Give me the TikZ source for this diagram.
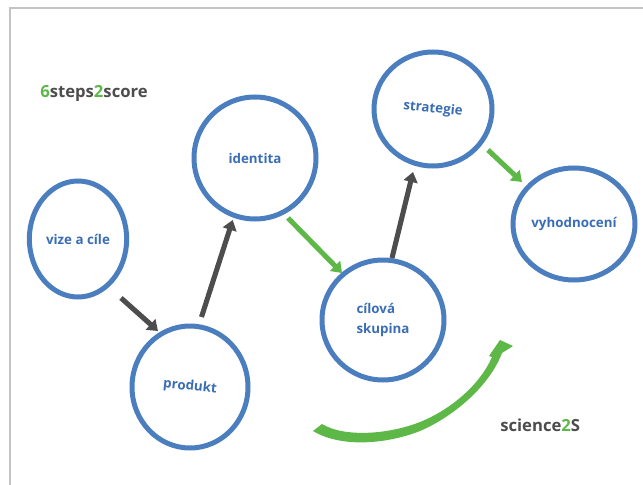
\documentclass[tikz,border=0pt]{standalone}
\usepackage{fontspec}
\setmainfont{Open Sans}
\usetikzlibrary{shapes.geometric,arrows.meta,calc}
\definecolor{cblue}{HTML}{4A7EBF}
\definecolor{tblue}{HTML}{3A6DB5}
\definecolor{dgray}{HTML}{4D4D4D}
\definecolor{cgreen}{HTML}{5DB847}
\definecolor{fgray}{HTML}{C4C4C4}
\begin{document}
\begin{tikzpicture}[x=0.75pt,y=-0.75pt,
  stage/.style={ellipse, draw=cblue, line width=3.75pt, inner sep=0pt,
    font=\bfseries\fontsize{10}{15}\selectfont, text=tblue, align=center},
  darr/.style={draw=dgray, line width=3.8pt, -{Triangle[length=7.5pt,width=10.5pt]}},
  garr/.style={draw=cgreen, line width=3.8pt, -{Triangle[length=7.5pt,width=10.5pt]}},
  brand/.style={font=\bfseries\fontsize{12.5}{14}\selectfont, text=dgray, inner sep=0pt}]
\useasboundingbox (0,0) rectangle (643,485);
\draw[fgray, line width=1.5pt] (10,485) -- (10,8) -- (643,8);

\node[stage, minimum width=73pt, minimum height=87pt] (vize) at (78,239) {vize a cíle};
\node[stage, minimum width=87pt, minimum height=91.5pt] (produkt) at (190,387) {\rotatebox{-6}{produkt}};
\node[stage, minimum width=91.5pt, minimum height=91.5pt] (identita) at (255,158) {identita};
\node[stage, minimum width=91.5pt, minimum height=90pt, align=left] (cilova) at (383,320) {cílová\\ skupina};
\node[stage, minimum width=88.5pt, minimum height=85.5pt] (strategie) at (433,109) {\rotatebox{-6}{strategie}};
\node[stage, minimum width=91.5pt, minimum height=84pt] (vyhod) at (574,224) {vyhodnocení};

\draw[darr] ($(vize)+(43,59)$) -- ($(produkt)+(-32,-56)$);
\draw[darr] ($(produkt)+(11.5,-70)$) -- ($(identita)+(-22.3,62)$);
\draw[garr] ($(identita)+(33,60)$) -- ($(cilova)+(-41,-47)$);
\draw[darr] ($(cilova)+(9,-62)$) -- ($(strategie)+(-20,63)$);
\draw[garr] ($(strategie)+(55,41)$) -- ($(vyhod)+(-52,-42)$);

\fill[cgreen] (313,431) -- (322,424)
  .. controls (345,438) and (390,434) .. (420,422)
  .. controls (450,410) and (480,385) .. (492,357)
  -- (489,356) -- (500,340) -- (513,346) -- (502,353)
  .. controls (490,385) and (455,416) .. (420,431)
  .. controls (390,443) and (343,449) .. (313,431) -- cycle;

\node[brand, anchor=west] (steps) at (40,93) {\textcolor{cgreen}{6}steps\textcolor{cgreen}{2}score};
\node[brand, anchor=west] (sci) at (500,425) {science\textcolor{cgreen}{2}S};
\end{tikzpicture}
\end{document}
